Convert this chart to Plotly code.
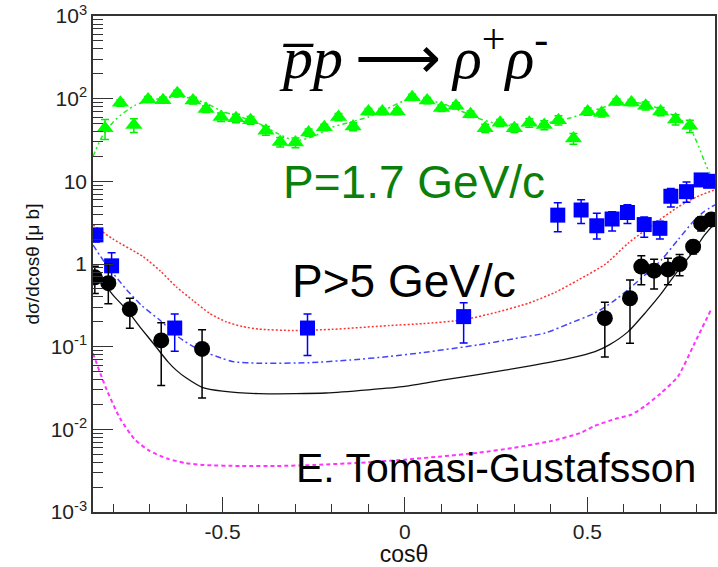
import plotly.graph_objects as go

# ---------------- data ----------------
# P = 1.7 GeV/c (green triangles)
x_g = [-0.822,-0.78,-0.743,-0.704,-0.663,-0.624,-0.581,-0.545,-0.504,-0.463,-0.423,-0.381,-0.342,-0.30,-0.264,-0.221,-0.182,-0.142,-0.10,-0.062,-0.021,0.02,0.061,0.10,0.14,0.18,0.22,0.261,0.30,0.341,0.382,0.421,0.462,0.501,0.539,0.58,0.621,0.66,0.701,0.742,0.781]
y_g = [44,89,48,98,96,116,95,75,60,58,55,41,30,29.5,39,45,60,46,70,70,70,104,95,77,82,65,44,51,44,51,48,55,33,70,67,92,90,82,70,56,47]
e_g = [12,8,9,8,8,10,9,7,7,7,6,5,4,4,4,4,6,5,6,6,6,9,8,7,7,6,5,5,5,6,6,7,5,7,7,8,8,9,8,8,8]

# green model curve
xc_g = [-0.855,-0.83,-0.80,-0.77,-0.74,-0.70,-0.65,-0.60,-0.55,-0.50,-0.45,-0.40,-0.35,-0.30,-0.25,-0.20,-0.15,-0.10,-0.05,0.0,0.05,0.10,0.15,0.20,0.25,0.30,0.35,0.40,0.45,0.50,0.55,0.60,0.65,0.70,0.75,0.78,0.80,0.82,0.84,0.85]
yc_g = [20,35,52,68,83,95,103,104,90,70,60,50,38,31,35,45,52,60,75,95,98,88,72,58,50,47,48,52,58,68,80,90,88,75,58,45,30,18,11,8]

# blue squares
x_b = [-0.847,-0.804,-0.631,-0.267,0.161,0.419,0.483,0.526,0.568,0.61,0.656,0.699,0.729,0.772,0.812,0.838]
y_b = [2.25,0.95,0.168,0.168,0.231,3.9,4.5,2.9,3.5,4.2,3.0,2.7,6.6,7.5,10.4,10.0]
eu_b = [0.4,0.42,0.08,0.08,0.11,1.6,1.5,1.2,0.8,1.0,0.7,0.6,1.6,2.3,1.5,1.5]
ed_b = [0.4,0.3,0.08,0.09,0.12,1.45,1.4,0.9,1.0,1.1,0.9,0.7,1.7,1.9,1.5,1.5]

# black circles (P > 5 GeV/c)
x_k = [-0.85,-0.813,-0.754,-0.668,-0.556,0.548,0.617,0.648,0.683,0.721,0.753,0.79,0.812,0.84]
y_k = [0.69,0.586,0.284,0.119,0.094,0.221,0.385,0.93,0.83,0.86,1.0,1.62,3.1,3.46]
eu_k = [0.25,0.42,0.1,0.076,0.066,0.124,0.255,0.33,0.31,0.31,0.3,0.3,0.6,0.6]
ed_k = [0.25,0.256,0.117,0.085,0.07,0.146,0.275,0.37,0.33,0.30,0.28,0.3,0.6,0.6]

# model curves
xc_k = [-0.83,-0.80,-0.763,-0.72,-0.69,-0.65,-0.627,-0.60,-0.554,-0.50,-0.40,-0.30,-0.217,-0.10,0.0,0.111,0.2,0.339,0.45,0.521,0.56,0.612,0.66,0.703,0.75,0.794,0.82,0.849]
yc_k = [0.62,0.42,0.28,0.16,0.11,0.066,0.052,0.042,0.032,0.029,0.027,0.027,0.0275,0.030,0.033,0.040,0.046,0.058,0.072,0.087,0.105,0.152,0.26,0.44,0.85,1.48,2.2,3.1]

xc_b = [-0.855,-0.82,-0.763,-0.72,-0.672,-0.62,-0.563,-0.50,-0.473,-0.40,-0.262,-0.15,-0.044,0.05,0.2,0.3,0.384,0.45,0.52,0.57,0.612,0.66,0.703,0.75,0.794,0.82,0.85]
yc_b = [1.7,1.0,0.49,0.31,0.21,0.13,0.091,0.072,0.066,0.063,0.064,0.069,0.076,0.085,0.105,0.125,0.146,0.19,0.254,0.35,0.49,0.75,1.12,2.0,3.4,4.3,5.2]

xc_r = [-0.855,-0.80,-0.718,-0.67,-0.627,-0.58,-0.536,-0.49,-0.445,-0.40,-0.308,-0.2,-0.044,0.05,0.157,0.25,0.339,0.41,0.475,0.55,0.612,0.68,0.749,0.80,0.849]
yc_r = [2.97,2.0,1.23,0.82,0.53,0.36,0.254,0.2,0.175,0.163,0.157,0.162,0.18,0.19,0.21,0.26,0.336,0.45,0.64,1.0,1.79,3.0,4.9,6.5,7.9]

xc_m = [-0.855,-0.82,-0.781,-0.74,-0.70,-0.65,-0.60,-0.55,-0.45,-0.35,-0.25,-0.1,0.0,0.1,0.2,0.3,0.4,0.48,0.52,0.58,0.62,0.657,0.70,0.749,0.794,0.839]
yc_m = [0.083,0.032,0.0136,0.0075,0.0055,0.0044,0.0039,0.0037,0.0036,0.0036,0.0037,0.004,0.0043,0.0047,0.0052,0.006,0.0072,0.009,0.011,0.0135,0.015,0.019,0.027,0.044,0.11,0.28]

# axis ticks
x_tickvals = [-0.5, 0, 0.5]
x_ticktext = ["-0.5", "0", "0.5"]
y_tickvals = [1e-3, 1e-2, 1e-1, 1, 10, 100, 1000]
y_ticktext = ["10<sup>-3</sup>", "10<sup>-2</sup>", "10<sup>-1</sup>", "1", "10", "10<sup>2</sup>", "10<sup>3</sup>"]
y_minor = [m * 10.0 ** d for d in range(-3, 3) for m in range(2, 10)]
x_minor = [round(-0.8 + 0.1 * i, 2) for i in range(17)]

# ---------------- figure ----------------
fig = go.Figure()

def curve(x, y, color, dash, width):
    fig.add_trace(go.Scatter(x=x, y=y, mode="lines",
                             line=dict(color=color, dash=dash, width=width, shape="spline", smoothing=0.6),
                             hoverinfo="skip", showlegend=False))

curve(xc_m, yc_m, "#ff33ff", "4px,3px", 2)
curve(xc_r, yc_r, "#ff3333", "2px,2px", 1.5)
curve(xc_b, yc_b, "#4444ff", "6px,3px,2px,3px", 1.5)
curve(xc_k, yc_k, "#111111", "solid", 1.3)
curve(xc_g, yc_g, "#22ee22", "5px,3px,2px,3px,2px,3px", 1.5)

fig.add_trace(go.Scatter(x=x_g, y=y_g, mode="markers",
                         marker=dict(symbol="triangle-up", size=15, color="#00ff00"),
                         error_y=dict(type="data", array=e_g, color="#00ee00", thickness=1.5, width=4),
                         showlegend=False))
fig.add_trace(go.Scatter(x=x_b, y=y_b, mode="markers",
                         marker=dict(symbol="square", size=15, color="#0000ff"),
                         error_y=dict(type="data", symmetric=False, array=eu_b, arrayminus=ed_b,
                                      color="#0000ff", thickness=1.5, width=4),
                         showlegend=False))
fig.add_trace(go.Scatter(x=x_k, y=y_k, mode="markers",
                         marker=dict(symbol="circle", size=16, color="#000000"),
                         error_y=dict(type="data", symmetric=False, array=eu_k, arrayminus=ed_k,
                                      color="#000000", thickness=1.5, width=4),
                         showlegend=False))

axis_font = dict(family="Arial, Liberation Sans, sans-serif", size=21, color="#222222")

fig.update_layout(
    width=718, height=567,
    margin=dict(l=93, r=1, t=16, b=55),
    paper_bgcolor="white", plot_bgcolor="white",
    font=dict(family="Arial, Liberation Sans, sans-serif", color="#000000"),
    xaxis=dict(range=[-0.855, 0.85], showgrid=False, zeroline=False,
               showline=True, mirror=True, linecolor="#333333", linewidth=1.5,
               tickmode="array", tickvals=x_tickvals, ticktext=x_ticktext,
               ticks="inside", ticklen=15, tickwidth=1.2, tickcolor="#333333",
               minor=dict(tickmode="array", tickvals=x_minor, ticks="inside", ticklen=8,
                          tickwidth=1.2, tickcolor="#333333", showgrid=False),
               tickfont=axis_font,
               title=dict(text="cosθ", font=dict(family="Arial, Liberation Sans, sans-serif", size=23, color="#111111"), standoff=4)),
    yaxis=dict(type="log", range=[-3, 3], showgrid=False, zeroline=False,
               showline=True, mirror=True, linecolor="#333333", linewidth=1.5,
               tickmode="array", tickvals=y_tickvals, ticktext=y_ticktext,
               ticks="inside", ticklen=20, tickwidth=1.2, tickcolor="#333333",
               minor=dict(tickmode="array", tickvals=y_minor, ticks="inside", ticklen=10,
                          tickwidth=1.2, tickcolor="#333333", showgrid=False),
               tickfont=axis_font,
               title=dict(text="dσ/dcosθ [μ b]", font=dict(family="Arial, Liberation Sans, sans-serif", size=19, color="#111111"), standoff=6)),
    annotations=[
        dict(text="<i>p\u0305p</i>\u2009\u27f6\u2009<i>ρ</i><sup>+</sup><i>ρ</i><sup>-</sup>",
             xref="paper", yref="paper", x=0.515, y=0.925, xanchor="center", yanchor="middle",
             showarrow=False, font=dict(family="Liberation Serif, Times New Roman, serif", size=60, color="#000000")),
        dict(text="P=1.7 GeV/c", xref="paper", yref="paper", x=0.516, y=0.665,
             xanchor="center", yanchor="middle", showarrow=False,
             font=dict(size=46, color="#0a800a")),
        dict(text="P>5 GeV/c", xref="paper", yref="paper", x=0.5, y=0.466,
             xanchor="center", yanchor="middle", showarrow=False,
             font=dict(size=46, color="#000000")),
        dict(text="E. Tomasi-Gustafsson", xref="paper", yref="paper", x=0.648, y=0.089,
             xanchor="center", yanchor="middle", showarrow=False,
             font=dict(size=41, color="#000000")),
    ],
)

fig.write_html("out.html")
